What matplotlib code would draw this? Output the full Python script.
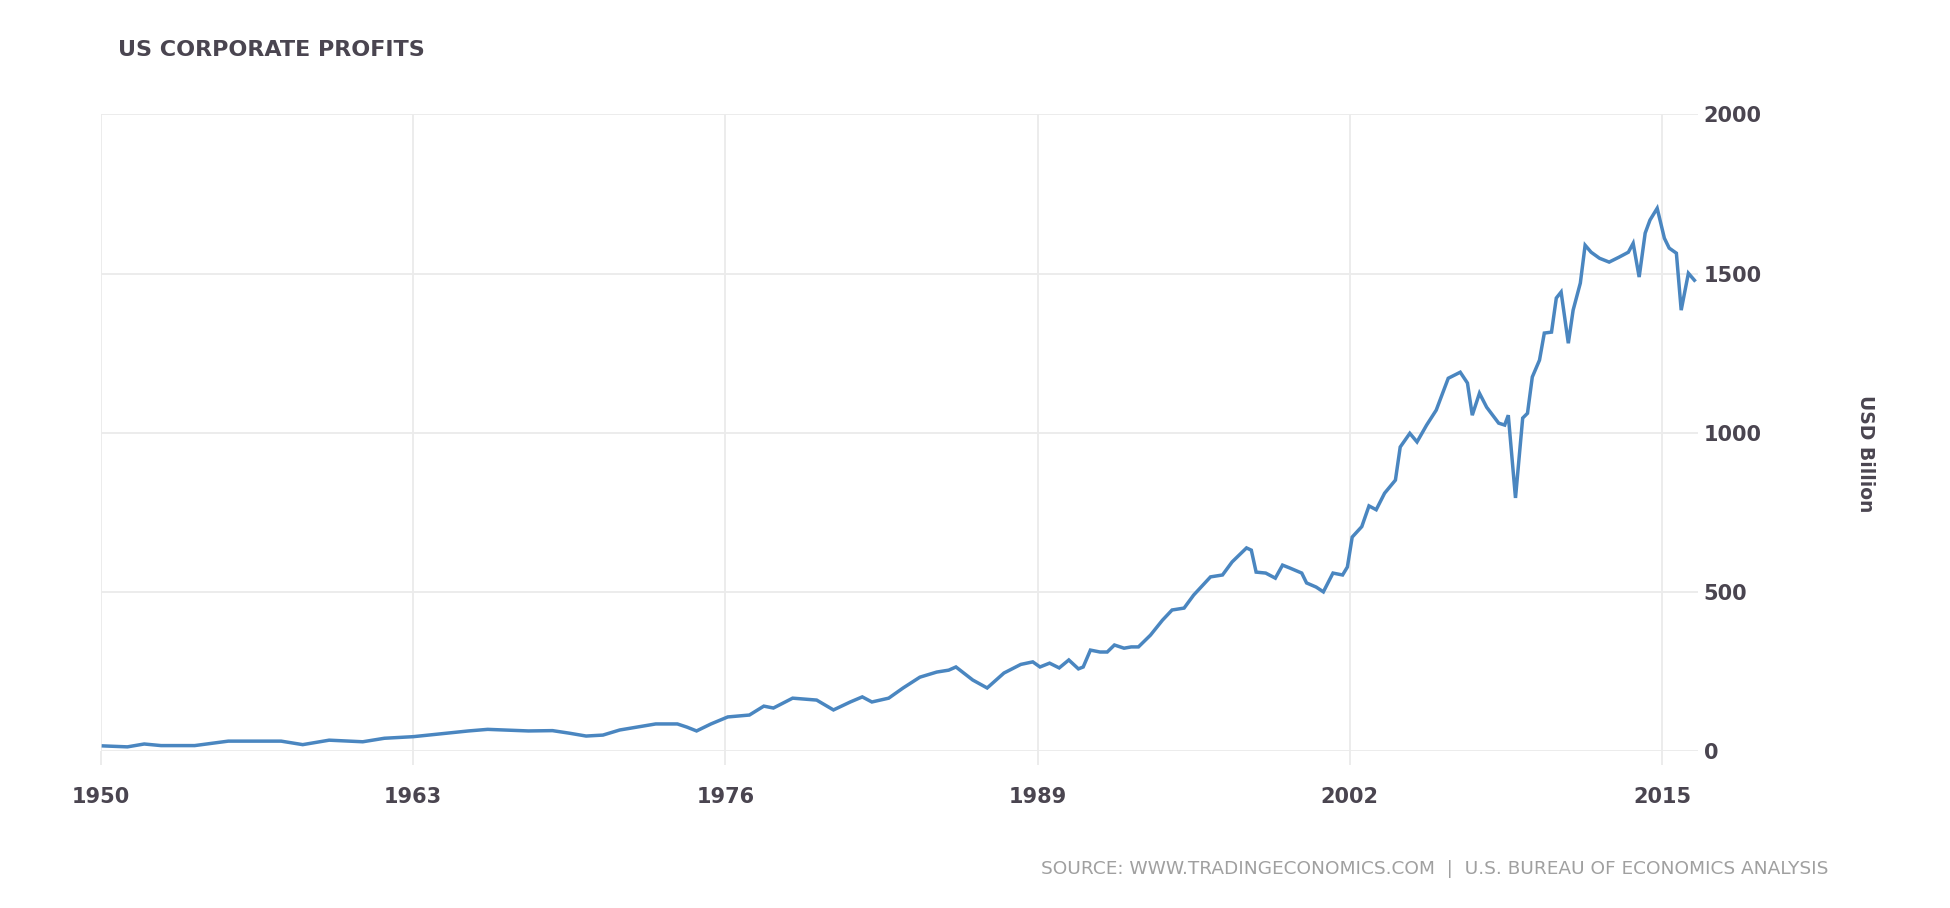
import matplotlib
matplotlib.use("Agg")
from matplotlib import pyplot as plt

# quarterly-ish readings of US corporate profits (USD billion)
years = [1950.1, 1951.1, 1951.8, 1952.5, 1953.9, 1955.3, 1956.7, 1957.5, 1958.4, 1959.5,
         1960.9, 1961.8, 1963.0, 1964.3, 1965.3, 1966.1, 1967.8, 1968.8, 1969.5, 1970.2,
         1970.9, 1971.6, 1972.3, 1973.1, 1974.0, 1974.4, 1974.8, 1975.4, 1976.1, 1977.0,
         1977.6, 1978.0, 1978.8, 1979.8, 1980.5, 1981.2, 1981.7, 1982.1, 1982.8, 1983.4,
         1984.1, 1984.8, 1985.3, 1985.6, 1986.3, 1986.9, 1987.6, 1988.3, 1988.8, 1989.1,
         1989.5, 1989.9, 1990.3, 1990.7, 1990.9, 1991.2, 1991.6, 1991.9, 1992.2, 1992.6,
         1992.9, 1993.2, 1993.7, 1994.2, 1994.6, 1995.1, 1995.5, 1996.2, 1996.7, 1997.1,
         1997.7, 1997.9, 1998.1, 1998.5, 1998.9, 1999.2, 1999.5, 2000.0, 2000.2, 2000.6,
         2000.9, 2001.3, 2001.7, 2001.9, 2002.1, 2002.5, 2002.8, 2003.1, 2003.45, 2003.9,
         2004.1, 2004.5, 2004.8, 2005.2, 2005.6, 2006.1, 2006.6, 2006.9, 2007.1, 2007.4,
         2007.7, 2008.2, 2008.45, 2008.6, 2008.9, 2009.2, 2009.4, 2009.6, 2009.9, 2010.1,
         2010.4, 2010.6, 2010.8, 2011.1, 2011.3, 2011.6, 2011.8, 2012.05, 2012.4, 2012.8,
         2013.2, 2013.6, 2013.8, 2014.05, 2014.3, 2014.5, 2014.8, 2015.1, 2015.3, 2015.6,
         2015.8, 2016.1, 2016.35]
profits = [16, 13, 22, 17, 17, 31, 31, 31, 20, 34,
           29, 40, 45, 55, 63, 68, 63, 64, 56, 47,
           50, 66, 75, 85, 85, 75, 63, 85, 107, 113,
           141, 135, 166, 160, 129, 154, 170, 154, 166, 198,
           232, 248, 254, 264, 223, 198, 245, 272, 280, 264,
           276, 261, 286, 258, 264, 317, 311, 311, 333, 323,
           327, 327, 364, 411, 443, 449, 490, 547, 553, 594,
           638, 631, 562, 559, 543, 584, 575, 559, 528, 515,
           500, 559, 553, 578, 672, 705, 770, 758, 810, 851,
           955, 998, 971, 1024, 1071, 1171, 1190, 1156, 1055, 1124,
           1080, 1030, 1024, 1055, 795, 1046, 1061, 1175, 1228, 1313,
           1316, 1423, 1442, 1281, 1385, 1470, 1589, 1567, 1548, 1536,
           1551, 1567, 1595, 1489, 1627, 1668, 1705, 1611, 1580, 1564,
           1385, 1501, 1479]

x_ticks = [1950, 1963, 1976, 1989, 2002, 2015]
y_ticks = [0, 500, 1000, 1500, 2000]

grid_color = "#ebebeb"
label_color = "#4a4550"

fig = plt.figure(figsize=(19.5, 9.08), dpi=100)
ax = fig.add_axes([101 / 1950, 1 - 751 / 908, (1698 - 101) / 1950, (751 - 114.4) / 908])

ax.plot(years, profits, color="#4a86c0", lw=2.5, solid_joinstyle="miter")

ax.set_xlim(1950, 2016.5)
ax.set_ylim(0, 2000)
ax.set_xticks(x_ticks)
ax.set_yticks(y_ticks)
ax.grid(True, color=grid_color, lw=1.3)
ax.set_axisbelow(True)
for s in ax.spines.values():
    s.set_visible(False)

ax.yaxis.tick_right()
ax.tick_params(axis="y", length=0, pad=4, labelsize=15, labelcolor=label_color)
ax.tick_params(axis="x", length=10, width=1.3, color=grid_color, pad=16,
               labelsize=15, labelcolor=label_color)
for lbl in ax.get_xticklabels() + ax.get_yticklabels():
    lbl.set_fontweight("bold")

fig.text(1865 / 1950, 1 - 454 / 908, "USD Billion", rotation=270, ha="center", va="center",
         fontsize=13.5, fontweight="bold", color=label_color)
fig.text(118 / 1950, 1 - 50 / 908, "US CORPORATE PROFITS", ha="left", va="center",
         fontsize=16, fontweight="bold", color=label_color)
fig.text(1828 / 1950, 1 - 869 / 908,
         "SOURCE: WWW.TRADINGECONOMICS.COM  |  U.S. BUREAU OF ECONOMICS ANALYSIS",
         ha="right", va="center", fontsize=13.3, color="#a0a0a0")

fig.savefig("out.png", dpi=100, facecolor="white")
